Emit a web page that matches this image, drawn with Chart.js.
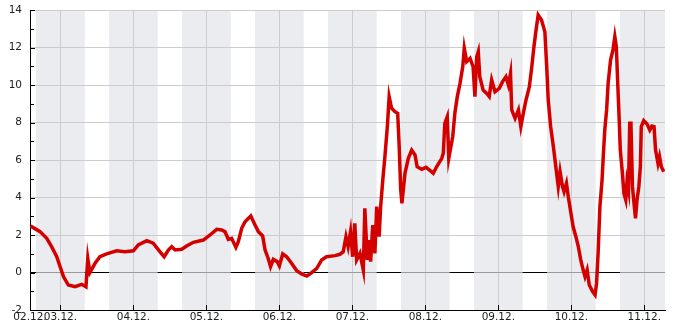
<!DOCTYPE html>
<html>
<head>
<meta charset="utf-8">
<script src="https://cdn.jsdelivr.net/npm/chart.js@4.4.1/dist/chart.umd.min.js"></script>
<style>
  html, body { margin: 0; padding: 0; background: #fff; }
  canvas { display: block; }
</style>
</head>
<body>
<canvas id="chart" width="685" height="330"></canvas>
<script>
// hours counted from 02.12. 00:00
const hours = [
  14.2, 17.3, 19.5, 21.1, 22.8, 23.9, 25.0, 26.6, 28.8, 31.0,
  32.4, 33.0, 33.7, 35.4, 37.0, 39.2, 42.5, 45.2, 48.0, 49.6,
  52.4, 54.5, 56.7, 58.1, 59.5, 60.6, 61.7, 63.9, 65.5, 67.7,
  71.0, 73.2, 75.4, 77.0, 78.1, 79.2, 80.3, 81.7, 82.5, 83.6,
  84.7, 86.6, 88.0, 89.1, 90.5, 91.3, 92.3, 93.1, 94.0, 95.3,
  96.0, 97.1, 98.4, 100.0, 101.7, 103.3, 105.0, 106.3, 108.3, 109.9,
  111.5, 114.3, 115.9, 117.0, 117.9, 118.6, 119.4, 120.1, 120.8, 121.4,
  122.5, 123.6, 124.1, 124.9, 125.6, 126.0, 126.7, 127.4, 128.0, 128.8,
  129.3, 130.0, 130.7, 131.5, 132.1, 132.9, 134.0, 134.9, 135.4, 135.9,
  136.3, 137.3, 138.4, 139.5, 140.6, 141.3, 142.8, 144.2, 145.3, 146.6,
  147.7, 149.4, 149.9, 150.4, 151.2, 151.7, 153.0, 153.7, 154.5, 155.4,
  156.3, 156.8, 157.6, 158.7, 159.7, 160.3, 160.9, 161.4, 161.9, 163.0,
  164.1, 165.0, 165.8, 166.9, 168.3, 169.4, 170.5, 171.3, 172.0, 172.4,
  173.5, 174.6, 175.4, 176.2, 177.1, 178.2, 179.0, 179.7, 180.4, 181.1,
  182.2, 183.3, 183.9, 184.4, 185.2, 186.1, 186.9, 187.7, 188.3, 189.1,
  189.6, 190.4, 191.0, 191.7, 192.6, 193.5, 194.3, 195.1, 195.9, 196.5,
  197.2, 197.9, 199.0, 199.8, 200.3, 200.8, 201.4, 202.1, 202.5, 203.0,
  203.6, 204.1, 204.9, 205.7, 206.3, 206.8, 207.3, 207.7, 208.1, 208.8,
  209.3, 209.9, 210.3, 210.8, 211.2, 211.6, 212.1, 212.5, 213.1, 213.6,
  214.2, 214.7, 215.0, 215.8, 216.9, 217.8, 218.5, 219.2, 219.7, 220.5,
  221.0, 221.6, 222.4
];
const temps = [
  2.48, 2.18, 1.82, 1.38, 0.84, 0.31, -0.22, -0.67, -0.76, -0.63,
  -0.76, 0.76, 0.0, 0.49, 0.84, 0.99, 1.16, 1.11, 1.16, 1.47,
  1.7, 1.56, 1.11, 0.84, 1.2, 1.38, 1.2, 1.24, 1.41, 1.61,
  1.73, 2.0, 2.3, 2.27, 2.18, 1.77, 1.82, 1.34, 1.64, 2.36,
  2.71, 3.01, 2.53, 2.18, 1.95, 1.2, 0.76, 0.31, 0.7, 0.58,
  0.35, 0.99, 0.84, 0.49, 0.1, -0.08, -0.19, -0.04, 0.22, 0.67,
  0.84, 0.9, 0.97, 1.11, 1.91, 1.38, 2.18, 0.84, 2.62, 0.67,
  1.02, 0.13, 3.42, 0.67, 1.73, 0.58, 2.53, 1.02, 3.51, 1.91,
  3.51, 4.93, 6.18, 7.78, 9.38, 8.76, 8.58, 8.49, 6.71, 4.4,
  3.69, 5.29, 6.09, 6.53, 6.27, 5.64, 5.5, 5.61, 5.47, 5.29,
  5.64, 6.09, 6.36, 7.96, 8.31, 6.09, 7.24, 8.49, 9.38, 10.09,
  10.98, 11.96, 11.24, 11.42, 10.98, 9.38, 11.51, 11.78, 10.44, 9.73,
  9.56, 9.38, 10.27, 9.64, 9.82, 10.18, 10.44, 10.0, 10.62, 8.67,
  8.22, 8.67, 7.78, 8.49, 9.2, 9.91, 10.98, 12.04, 12.93, 13.73,
  13.47, 12.84, 10.98, 9.2, 7.78, 6.71, 5.64, 4.58, 5.38, 4.58,
  4.31, 4.76, 4.04, 3.33, 2.44, 1.91, 1.38, 0.67, 0.13, -0.22,
  0.13, -0.67, -1.02, -1.2, -0.58, 1.02, 3.51, 4.93, 6.18, 7.6,
  8.67, 10.09, 11.33, 11.87, 12.58, 12.04, 9.91, 8.31, 6.53, 5.29,
  4.22, 3.87, 4.84, 4.4, 7.96, 7.96, 4.58, 3.87, 2.89, 3.87,
  4.58, 5.64, 7.78, 8.1, 7.92, 7.6, 7.81, 7.78, 6.53, 5.82,
  6.18, 5.64, 5.38
];

const xTickHours = [14, 24, 48, 72, 96, 120, 144, 168, 192, 216];
const xTickLabels = ['02.12.', '03.12.', '04.12.', '05.12.', '06.12.', '07.12.', '08.12.', '09.12.', '10.12.', '11.12.'];
const yMinorTicks = [-1, 1, 3, 5, 7, 9, 11, 13];
const nightStarts = [16, 40, 64, 88, 112, 136, 160, 184, 208];
const nightEnds = [32, 56, 80, 104, 128, 152, 176, 200, 224];

const NIGHT = '#ebecf0';

const chartDecor = {
  id: 'chartDecor',
  beforeDraw(chart) {
    const { ctx, chartArea: a, scales: { x } } = chart;
    ctx.save();
    ctx.fillStyle = NIGHT;
    nightStarts.forEach((s, i) => {
      const l = Math.max(x.getPixelForValue(s), a.left);
      const r = Math.min(x.getPixelForValue(nightEnds[i]), a.right);
      if (r > l) ctx.fillRect(l, a.top, r - l, a.bottom - a.top);
    });
    ctx.restore();
  },
  beforeDatasetsDraw(chart) {
    const { ctx, chartArea: a, scales: { x, y } } = chart;
    ctx.save();
    ctx.lineWidth = 1;

    // zero line: black by day, grey over the night bands
    const y0 = Math.round(y.getPixelForValue(0) - 0.5) + 0.5;
    ctx.strokeStyle = '#000';
    ctx.beginPath();
    ctx.moveTo(a.left, y0);
    ctx.lineTo(a.right, y0);
    ctx.stroke();
    ctx.strokeStyle = '#9a9a9a';
    nightStarts.forEach((s, i) => {
      const l = Math.max(x.getPixelForValue(s), a.left);
      const r = Math.min(x.getPixelForValue(nightEnds[i]), a.right);
      if (r <= l) return;
      ctx.beginPath();
      ctx.moveTo(l, y0);
      ctx.lineTo(r, y0);
      ctx.stroke();
    });

    // tick marks pointing into the plot
    ctx.strokeStyle = '#000';
    ctx.beginPath();
    y.ticks.forEach((t) => {
      const py = Math.round(y.getPixelForValue(t.value)) + 0.5;
      ctx.moveTo(a.left, py);
      ctx.lineTo(a.left + 5, py);
    });
    yMinorTicks.forEach((v) => {
      const py = Math.round(y.getPixelForValue(v)) + 0.5;
      ctx.moveTo(a.left, py);
      ctx.lineTo(a.left + 4, py);
    });
    xTickHours.forEach((h) => {
      const px = Math.round(x.getPixelForValue(h)) + 0.5;
      ctx.moveTo(px, a.bottom);
      ctx.lineTo(px, a.bottom - 5);
    });
    ctx.stroke();
    ctx.restore();
  }
};

Chart.defaults.font.family = '"DejaVu Sans", sans-serif';
Chart.defaults.font.size = 10.5;
Chart.defaults.color = '#222';

new Chart(document.getElementById('chart'), {
  type: 'line',
  data: {
    datasets: [{
      data: hours.map((h, i) => ({ x: h, y: temps[i] })),
      borderColor: '#d40000',
      borderWidth: 3.5,
      pointRadius: 0,
      tension: 0,
      fill: false,
    }],
  },
  options: {
    responsive: false,
    animation: false,
    devicePixelRatio: 1,
    layout: { padding: { top: 10, right: 20, left: 0, bottom: 0 } },
    plugins: {
      legend: { display: false },
      tooltip: { enabled: false },
    },
    scales: {
      x: {
        type: 'linear',
        min: 14,
        max: 222.8,
        afterBuildTicks: (scale) => {
          scale.ticks = xTickHours.map((v) => ({ value: v }));
        },
        afterFit: (scale) => {
          scale.height = 20;
          scale.paddingLeft = 0;
          scale.paddingRight = 0;
        },
        ticks: {
          autoSkip: false,
          maxRotation: 0,
          padding: 1,
          callback: (v, i) => xTickLabels[i],
        },
        grid: { color: '#cccccc', drawTicks: false },
        border: { color: '#000', width: 1 },
      },
      y: {
        min: -2,
        max: 14,
        afterFit: (scale) => {
          scale.width = 30;
          scale.paddingTop = 0;
          scale.paddingBottom = 0;
        },
        ticks: { stepSize: 2, padding: 8, callback: (v) => String(v) },
        grid: {
          color: (c) => (c.tick && c.tick.value === 0 ? 'rgba(0,0,0,0)' : '#cccccc'),
          drawTicks: false,
        },
        border: { color: '#000', width: 1 },
      },
    },
  },
  plugins: [chartDecor],
});
</script>
</body>
</html>
